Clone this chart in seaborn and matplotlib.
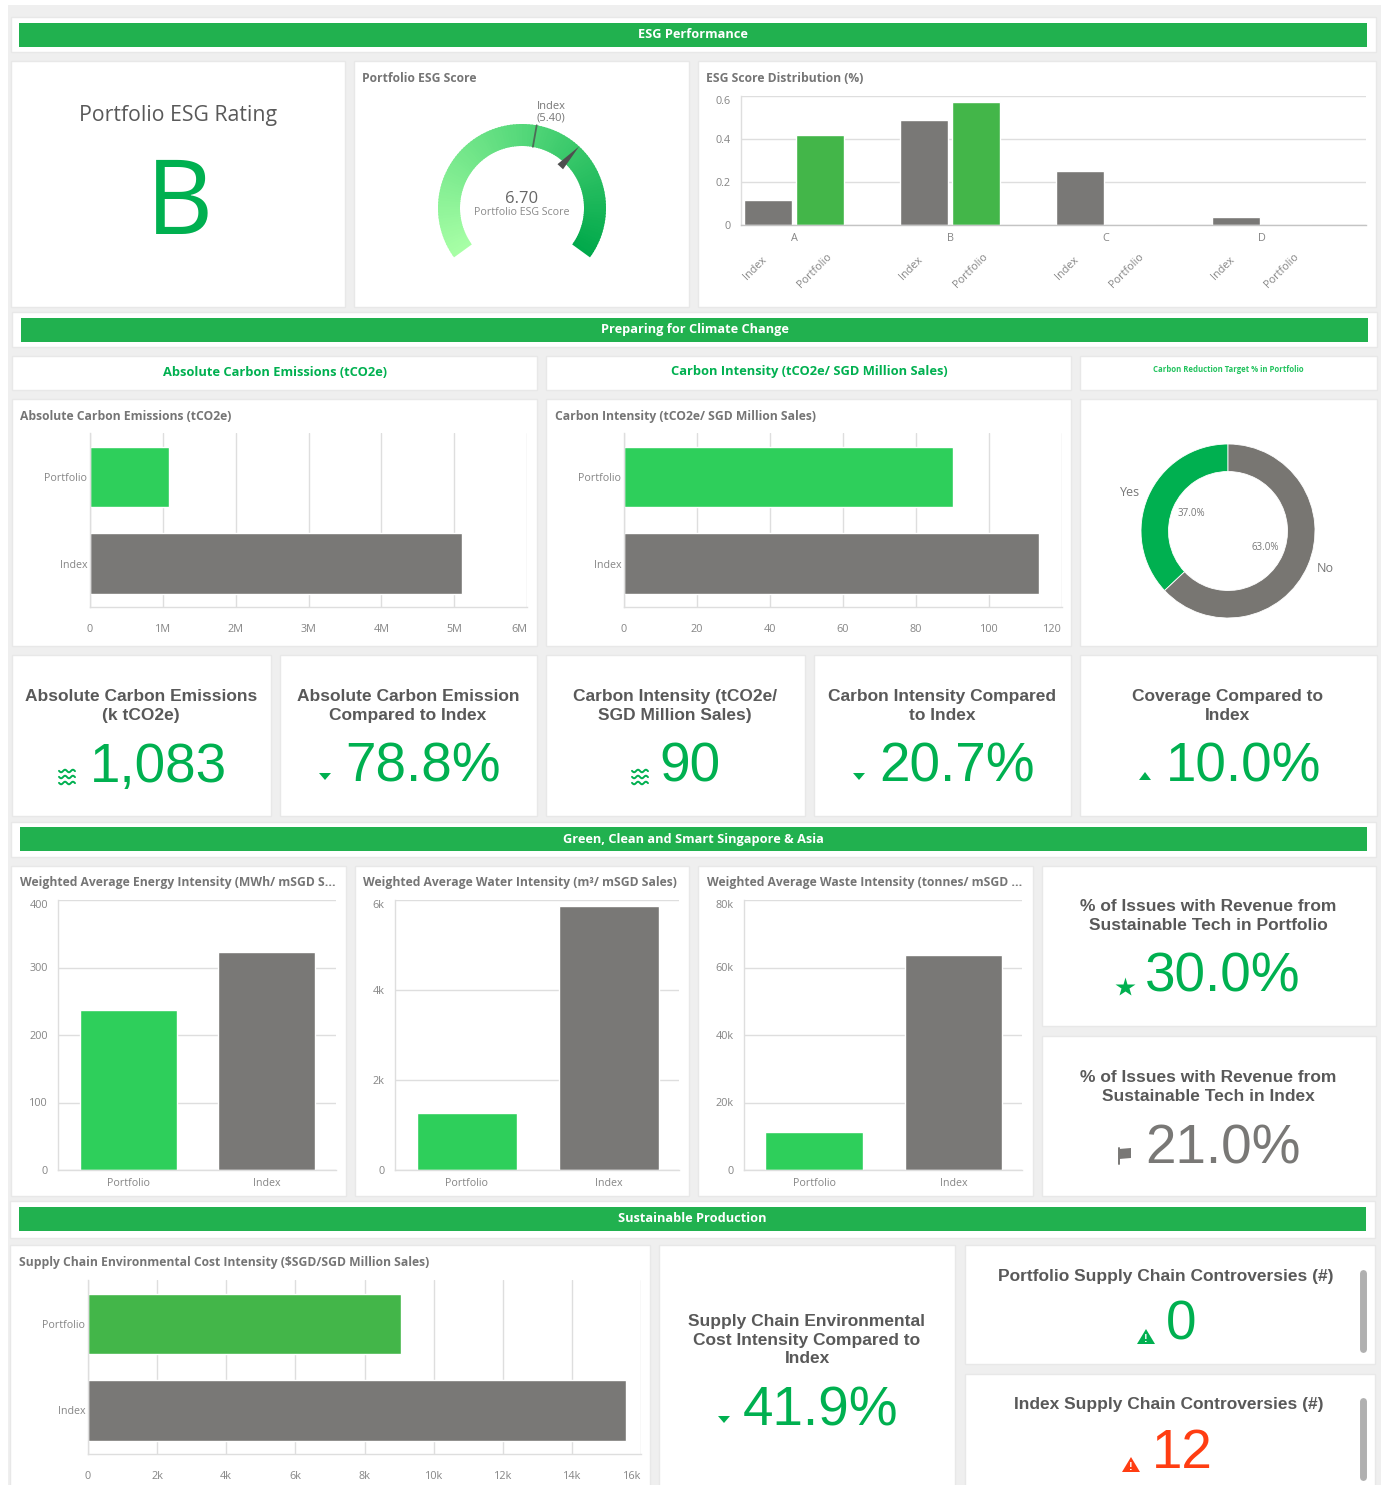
import matplotlib
matplotlib.use("Agg")
import matplotlib.pyplot as plt
from matplotlib.patches import Rectangle, Wedge, Polygon
import numpy as np
import pandas as pd
import seaborn as sns

W, H = 1386, 1485

# data
pair = ["Portfolio", "Index"]
dist_grades = ["A", "B", "C", "D"]
dist_index = [0.116, 0.49, 0.25, 0.035]
dist_portfolio = [0.42, 0.57, 0.0, 0.0]
abs_emissions = [1.083, 5.11]
intensity = [90.1, 113.7]
energy = [237, 323]
water = [1.267, 5.87]
waste = [11.3, 63.7]
supply_cost = [9.06, 15.57]
donut_labels = ["Yes", "No"]
donut_values = [37.0, 63.0]
gauge_value = 6.70
gauge_index = 5.40
gauge_max = 10.0

GREEN = "#00b050"
BAND = "#21b14f"
BAR = "#2ecf5b"
BAR2 = "#43b649"
GREY = "#797876"
RED = "#ff3d12"
TXT = "#595959"
TICK = "#858585"
GRID = "#dedede"
BG = "#efefef"
UI = "Open Sans"

sns.set_theme(style="white")
plt.rcParams["font.family"] = ["Liberation Sans", "DejaVu Sans"]

fig = plt.figure(figsize=(W / 100, H / 100), dpi=100, facecolor="white")

# pixel canvas for cards, headers and text
bg = fig.add_axes([0, 0, 1, 1], zorder=0)
bg.set_xlim(0, W)
bg.set_ylim(H, 0)
bg.axis("off")


def card(x0, y0, x1, y1):
    bg.add_patch(Rectangle((x0, y0), x1 - x0, y1 - y0, fc="white", ec="#e8e8e8", lw=1))


def band(x0, y0, x1, y1, text, bx0, by0, bx1, by1):
    card(x0, y0, x1, y1)
    bg.add_patch(Rectangle((bx0, by0), bx1 - bx0, by1 - by0, fc=BAND, ec="none"))
    bg.text((bx0 + bx1) / 2, (by0 + by1) / 2, text, color="white", ha="center", va="center",
            fontsize=9.15, fontweight="bold", family=UI)


def title(x, y, text):
    bg.text(x, y + 0.5, text, color="#757575", ha="left", va="center", fontsize=8.7,
            fontweight="bold", family=UI)


def kpi_icon(kind, x, y, color):
    if kind == "down":
        bg.add_patch(Polygon([(x - 6, y - 3), (x + 6, y - 3), (x, y + 4)], fc=color, ec="none"))
    elif kind == "up":
        bg.add_patch(Polygon([(x - 6, y + 4), (x + 6, y + 4), (x, y - 4)], fc=color, ec="none"))
    elif kind == "wave":
        for dy in (-6, 0, 6):
            xs = np.linspace(x - 8, x + 8, 24)
            bg.plot(xs, y + dy + 1.3 * np.sin((xs - x) * 0.8), color=color, lw=1.4)
    elif kind == "star":
        bg.plot([x], [y], marker="*", ms=15, color=color, mec="none")
    elif kind == "flag":
        bg.plot([x - 6, x - 6], [y - 7, y + 9], color=color, lw=1.4)
        bg.add_patch(Polygon([(x - 6, y - 6), (x + 6, y - 7), (x + 6, y + 3), (x - 6, y + 4)], fc=color, ec="none"))
    elif kind == "warn":
        bg.add_patch(Polygon([(x - 9, y + 7), (x + 9, y + 7), (x, y - 8)], fc=color, ec="none"))
        bg.text(x, y + 1.5, "!", color="white", fontsize=8, fontweight="bold", ha="center", va="center")


def kpi(cx, ty, lines, value, vy, vx, color, icon, ix, iy):
    bg.text(cx, ty, lines, color=TXT, ha="center", va="center", fontsize=12.5,
            fontweight="bold", linespacing=1.3)
    bg.text(vx, vy + 5, value, color=color, ha="center", va="center", fontsize=39.5)
    kpi_icon(icon, ix, iy, color)


def px_axes(x0, y0, x1, y1):
    a = fig.add_axes([x0 / W, 1 - y1 / H, (x1 - x0) / W, (y1 - y0) / H], zorder=2)
    a.patch.set_alpha(0)
    return a


def style(a, grid_axis):
    sns.despine(ax=a, top=True, right=True)
    a.set_xlabel("")
    a.set_ylabel("")
    a.grid(True, axis=grid_axis, color=GRID, lw=1)
    a.set_axisbelow(True)
    a.tick_params(length=0, labelsize=7.8, labelcolor=TICK, color=GRID, width=1)
    for s in a.spines.values():
        s.set_color(GRID)
        s.set_linewidth(1)
    for lab in a.get_xticklabels() + a.get_yticklabels():
        lab.set_family(UI)


def hbar(x0, y0, x1, y1, values, ticks, ticklabels, xmax, first, ylim):
    a = px_axes(x0, y0, x1, y1)
    frame = pd.DataFrame({"name": pair, "value": values})
    sns.barplot(data=frame, y="name", x="value", hue="name", palette=[first, GREY], width=0.70,
                saturation=1, legend=False, ax=a)
    a.set_xlim(0, xmax)
    a.set_ylim(*ylim)
    a.set_xticks(ticks)
    a.set_xticklabels(ticklabels)
    style(a, "x")
    a.tick_params(axis="x", pad=8, length=4.3)
    a.tick_params(axis="y", pad=2)
    a.get_xticklabels()[-1].set_horizontalalignment("right")
    for lab in a.get_yticklabels():
        lab.set_fontsize(7.7)
    return a


def vbar(x0, y0, x1, y1, values, ticks, ticklabels, ymax, xlim):
    a = px_axes(x0, y0, x1, y1)
    frame = pd.DataFrame({"name": pair, "value": values})
    sns.barplot(data=frame, x="name", y="value", hue="name", palette=[BAR, GREY], width=0.70,
                saturation=1, legend=False, ax=a)
    a.set_ylim(0, ymax)
    a.set_xlim(*xlim)
    a.set_yticks(ticks)
    a.set_yticklabels(ticklabels)
    style(a, "y")
    a.tick_params(axis="x", pad=6)
    a.tick_params(axis="y", pad=3, length=4.3)
    for lab in a.get_xticklabels():
        lab.set_fontsize(7.7)
    # top tick label sits just under the top line in the original
    a.get_yticklabels()[-1].set_verticalalignment("top")
    return a


# grey sheet
bg.add_patch(Rectangle((8, 5), 1373, H - 5, fc=BG, ec="none"))

# section 1
band(11, 17, 1376, 52, "ESG Performance", 19, 23, 1367, 47)
card(11, 61, 345, 307)
card(354, 61, 689, 307)
card(698, 61, 1376, 307)
bg.text(178, 115, "Portfolio ESG Rating", color=TXT, fontsize=15.3, ha="center", va="center", family=UI)
bg.text(179, 207, "B", color=GREEN, fontsize=75, ha="center", va="center", family=UI)
title(362, 78, "Portfolio ESG Score")
title(706, 78, "ESG Score Distribution (%)")

# gauge
g = px_axes(522 - 90, 208 - 90, 522 + 90, 208 + 90)
g.set_xlim(-90 / 84, 90 / 84)
g.set_ylim(-90 / 84, 90 / 84)
g.axis("off")
g_cmap = sns.blend_palette(["#a8ffa6", "#55d87a", "#00a84a"], as_cmap=True)
span = 126
edges = np.linspace(0, 1, 120)
for f0, f1 in zip(edges[:-1], edges[1:]):
    a0 = 90 + span - f1 * 2 * span
    a1 = 90 + span - f0 * 2 * span
    # slight overlap so no seams show between the slices
    g.add_patch(Wedge((0, 0), 1, a0, a1 + (0.8 if f0 > 0 else 0), width=22 / 84, fc=g_cmap(f0), ec="none"))


def gauge_angle(v):
    return np.deg2rad(90 + span - (v / gauge_max) * 2 * span)


t = gauge_angle(gauge_index)
g.plot([0.74 * np.cos(t), np.cos(t)], [0.74 * np.sin(t), np.sin(t)], color="#4d6b57", lw=1.3)
t = gauge_angle(gauge_value)
n = np.array([np.cos(t), np.sin(t)])
side = np.array([-n[1], n[0]]) * 0.045
g.add_patch(Polygon([n, 0.67 * n + side, 0.67 * n - side], fc="#4f4f4f", ec="none"))
bg.text(551, 112, "Index\n(5.40)", color="#777777", fontsize=8, ha="center", va="center",
        family=UI, linespacing=1.05, zorder=5)
bg.text(522, 199, "6.70", color="#666666", fontsize=12, ha="center", va="center", family=UI)
bg.text(522, 212.5, "Portfolio ESG Score", color="#8a8a8a", fontsize=7.7, ha="center", va="center", family=UI)

# ESG distribution
d = px_axes(741, 96, 1366, 225)
dist = pd.DataFrame({
    "grade": dist_grades * 2,
    "kind": ["Index"] * 4 + ["Portfolio"] * 4,
    "share": dist_index + dist_portfolio,
})
sns.barplot(data=dist, x="grade", y="share", hue="kind", palette=[GREY, BAR2], width=0.667, gap=0.06,
            saturation=1, legend=False, ax=d)
d.set_xlim(-0.34, 3.667)
d.set_ylim(0, 0.6)
d.set_yticks([0, 0.2, 0.4, 0.6])
d.set_yticklabels(["0", "0.2", "0.4", "0.6"])
style(d, "y")
d.spines["bottom"].set_color("#c4c4c4")
d.tick_params(axis="x", pad=6)
d.tick_params(axis="y", pad=3, length=4.3)
d.get_yticklabels()[-1].set_verticalalignment("top")
for i in range(4):
    d.text(i - 0.25, -0.20, "Index", rotation=45, color=TICK, fontsize=7.8, ha="center", va="center", family=UI)
    d.text(i + 0.13, -0.214, "Portfolio", rotation=45, color=TICK, fontsize=7.8, ha="center", va="center", family=UI)

# section 2
band(12, 312, 1377, 347, "Preparing for Climate Change", 21, 318, 1368, 342)
for x0, x1 in [(12, 537), (546, 1071), (1080, 1377)]:
    card(x0, 356, x1, 390)
    card(x0, 399, x1, 646)
bg.text(275, 372, "Absolute Carbon Emissions (tCO2e)", color=GREEN, fontsize=9.25, fontweight="bold",
        ha="center", va="center", family=UI)
bg.text(809, 372, "Carbon Intensity (tCO2e/ SGD Million Sales)", color=GREEN, fontsize=9.25, fontweight="bold",
        ha="center", va="center", family=UI)
bg.text(1228, 369, "Carbon Reduction Target % in Portfolio", color="#22c35e", fontsize=5.6, fontweight="bold",
        ha="center", va="center", family=UI)
title(20, 416, "Absolute Carbon Emissions (tCO2e)")
title(555, 416, "Carbon Intensity (tCO2e/ SGD Million Sales)")

hbar(90, 433, 527, 607, abs_emissions, range(7), ["0", "1M", "2M", "3M", "4M", "5M", "6M"], 6, BAR, (1.503, -0.509))
hbar(624, 433, 1062, 607, intensity, range(0, 121, 20), [str(v) for v in range(0, 121, 20)], 120, BAR, (1.503, -0.509))

# donut
p = px_axes(1228 - 90, 531 - 90, 1228 + 90, 531 + 90)
p.pie(donut_values, colors=[GREEN, "#787672"], startangle=90, counterclock=True, radius=87 / 90,
      wedgeprops={"width": 27.5 / 90, "edgecolor": "white", "linewidth": 0.6})
p.set_xlim(-1, 1)
p.set_ylim(-1, 1)
bg.text(1130, 492, donut_labels[0], color="#777777", fontsize=9, ha="center", va="center", family=UI)
bg.text(1325, 569, donut_labels[1], color="#777777", fontsize=9, ha="center", va="center", family=UI)
bg.text(1191, 514, "37.0%", color="#777777", fontsize=7, ha="center", va="center", family=UI, zorder=5)
bg.text(1265, 547, "63.0%", color="#777777", fontsize=7, ha="center", va="center", family=UI, zorder=5)

# KPI row
for x0, x1 in [(12, 271), (280, 537), (546, 805), (814, 1071), (1080, 1377)]:
    card(x0, 655, x1, 816)
kpi(141, 706, "Absolute Carbon Emissions\n(k tCO2e)", "1,083", 763, 158, GREEN, "wave", 67, 777)
kpi(408, 706, "Absolute Carbon Emission\nCompared to Index", "78.8%", 763, 423, GREEN, "down", 325, 776)
kpi(675, 706, "Carbon Intensity (tCO2e/\nSGD Million Sales)", "90", 763, 690, GREEN, "wave", 640, 777)
kpi(942, 706, "Carbon Intensity Compared\nto Index", "20.7%", 763, 957, GREEN, "down", 859, 776)
kpi(1228, 706, "Coverage Compared to\nIndex", "10.0%", 763, 1244, GREEN, "up", 1145, 776)

# section 3
band(11, 822, 1376, 857, "Green, Clean and Smart Singapore & Asia", 20, 827, 1367, 851)
card(11, 866, 346, 1196)
card(355, 866, 689, 1196)
card(698, 866, 1033, 1196)
card(1042, 866, 1376, 1026)
card(1042, 1036, 1376, 1196)
title(20, 882, "Weighted Average Energy Intensity (MWh/ mSGD S...")
title(363, 882, "Weighted Average Water Intensity (m³/ mSGD Sales)")
title(707, 882, "Weighted Average Waste Intensity (tonnes/ mSGD ...")
vbar(58, 900, 336, 1170, energy, [0, 100, 200, 300, 400], ["0", "100", "200", "300", "400"], 400, (-0.51, 1.504))
vbar(395, 900, 679, 1170, water, [0, 2, 4, 6], ["0", "2k", "4k", "6k"], 6, (-0.507, 1.493))
vbar(744, 900, 1022, 1170, waste, [0, 20, 40, 60, 80], ["0", "20k", "40k", "60k", "80k"], 80, (-0.502, 1.491))
kpi(1208, 916, "% of Issues with Revenue from\nSustainable Tech in Portfolio", "30.0%", 973, 1223, GREEN, "star", 1125, 987)
kpi(1208, 1087, "% of Issues with Revenue from\nSustainable Tech in Index", "21.0%", 1144, 1223, GREY, "flag", 1125, 1155)

# section 4
band(10, 1201, 1375, 1238, "Sustainable Production", 19, 1207, 1366, 1231)
card(10, 1245, 650, H + 5)
card(659, 1245, 955, H + 5)
card(965, 1245, 1375, 1364)
card(965, 1374, 1375, H + 5)
title(19, 1262, "Supply Chain Environmental Cost Intensity ($SGD/SGD Million Sales)")
hbar(88, 1280, 641, 1454, supply_cost, range(0, 17, 2), ["0"] + [f"{v}k" for v in range(2, 17, 2)], 16, BAR2, (1.503, -0.509))
kpi(807, 1340, "Supply Chain Environmental\nCost Intensity Compared to\nIndex", "41.9%", 1406, 821, GREEN, "down", 724, 1419)
kpi(1166, 1277, "Portfolio Supply Chain Controversies (#)", "0", 1321, 1181, GREEN, "warn", 1146, 1337)
kpi(1169, 1404, "Index Supply Chain Controversies (#)", "12", 1449, 1182, RED, "warn", 1131, 1465)
for y0, y1 in [(1270, 1352), (1398, 1480)]:
    bg.plot([1363, 1363], [y0 + 3, y1 - 3], color="#b0b0b0", lw=5, solid_capstyle="round")

fig.savefig("out.png", dpi=100)
